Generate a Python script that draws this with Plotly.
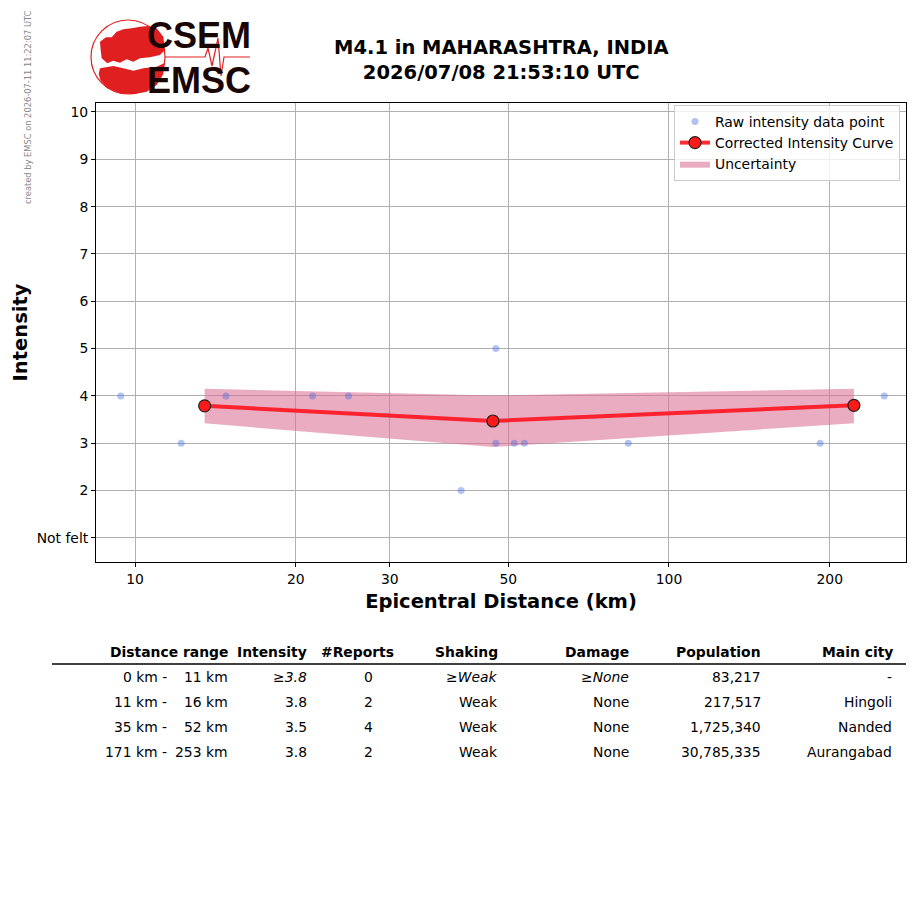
import plotly.graph_objects as go
import math

# ---------------- data ----------------
raw_dist = [9.4, 12.2, 14.8, 21.5, 25.1, 40.8, 47.4, 47.4, 51.3, 53.6, 83.9, 191.9, 253.0]
raw_int = [4, 3, 4, 4, 4, 2, 5, 3, 3, 3, 3, 3, 4]

curve_dist = [13.5, 46.8, 222.0]
curve_int = [3.79, 3.47, 3.80]
curve_upper = [4.15, 4.01, 4.15]
curve_lower = [3.42, 2.92, 3.42]

y_tickvals = [1, 2, 3, 4, 5, 6, 7, 8, 9, 10]
y_ticktext = ["Not felt", "2", "3", "4", "5", "6", "7", "8", "9", "10"]
x_tickvals = [10, 20, 30, 50, 100, 200]

title_lines = ["M4.1 in MAHARASHTRA, INDIA", "2026/07/08 21:53:10 UTC"]
credit = "created by EMSC on 2026-07-11 11:22:07 UTC"

tbl_headers = ["Distance range", "Intensity", "#Reports", "Shaking", "Damage", "Population", "Main city"]
tbl_from = ["0 km -", "11 km -", "35 km -", "171 km -"]
tbl_to = ["11 km", "16 km", "52 km", "253 km"]
tbl_intensity = ["≥<i>3.8</i>", "3.8", "3.5", "3.8"]
tbl_reports = ["0", "2", "4", "2"]
tbl_shaking = ["≥<i>Weak</i>", "Weak", "Weak", "Weak"]
tbl_damage = ["≥<i>None</i>", "None", "None", "None"]
tbl_population = ["83,217", "217,517", "1,725,340", "30,785,335"]
tbl_city = ["-", "Hingoli", "Nanded", "Aurangabad"]

# ---------------- layout helpers ----------------
W, H = 915, 905
L, R, T, B = 96, 906, 103, 562
def px(x):
    return (x - L) / (R - L)
def py(y):
    return (B - y) / (B - T)

FONT = "DejaVu Sans"
FS = 13.9

fig = go.Figure()

# uncertainty band
fig.add_trace(go.Scatter(
    x=curve_dist + curve_dist[::-1],
    y=curve_upper + curve_lower[::-1],
    fill="toself", mode="lines", line=dict(width=0),
    fillcolor="rgba(219,112,147,0.58)",
    name="Uncertainty", legendrank=3, hoverinfo="skip"))

# raw points
fig.add_trace(go.Scatter(
    x=raw_dist, y=raw_int, mode="markers",
    marker=dict(size=7, color="rgba(65,105,225,0.4)"),
    name="Raw intensity data point", legendrank=1))

# corrected curve
fig.add_trace(go.Scatter(
    x=curve_dist, y=curve_int, mode="lines+markers",
    line=dict(color="rgba(255,20,30,0.9)", width=4),
    marker=dict(size=12, color="#ff1a1a", line=dict(color="#222222", width=1.2)),
    name="Corrected Intensity Curve", legendrank=2))

fig.update_xaxes(
    type="log", range=[math.log10(8.45), math.log10(277.9)],
    tickvals=x_tickvals, ticktext=[str(v) for v in x_tickvals],
    showgrid=True, gridcolor="#b0b0b0", gridwidth=1,
    showline=True, linecolor="black", linewidth=1, mirror=True,
    ticks="outside", ticklen=4, tickcolor="black",
    tickfont=dict(family=FONT, size=FS, color="black"),
    title=dict(text="<b>Epicentral Distance (km)</b>", font=dict(family=FONT, size=19.5, color="black"), standoff=8),
    zeroline=False)
fig.update_yaxes(
    range=[0.49, 10.19],
    tickvals=y_tickvals, ticktext=y_ticktext,
    showgrid=True, gridcolor="#b0b0b0", gridwidth=1,
    showline=True, linecolor="black", linewidth=1, mirror=True,
    ticks="outside", ticklen=4, tickcolor="black",
    tickfont=dict(family=FONT, size=FS, color="black"),
    title=dict(text="<b>Intensity</b>", font=dict(family=FONT, size=19.5, color="black"), standoff=3),
    zeroline=False)

annotations = []
# title
annotations.append(dict(x=0.5, y=py(60), xref="paper", yref="paper",
    text="<b>" + title_lines[0] + "</b><br><b>" + title_lines[1] + "</b>",
    showarrow=False, font=dict(family=FONT, size=19.5, color="black"),
    xanchor="center", yanchor="middle"))
# credit
annotations.append(dict(x=px(28), y=py(107), xref="paper", yref="paper",
    text=credit, textangle=-90, showarrow=False,
    font=dict(family=FONT, size=8.3, color="#888888"),
    xanchor="center", yanchor="middle"))
# logo text
annotations.append(dict(x=px(199), y=py(36), xref="paper", yref="paper",
    text="<b>CSEM</b>", showarrow=False,
    font=dict(family="Liberation Sans", size=36, color="#1a0505"),
    xanchor="center", yanchor="middle"))
annotations.append(dict(x=px(199), y=py(80), xref="paper", yref="paper",
    text="<b>EMSC</b>", showarrow=False,
    font=dict(family="Liberation Sans", size=36, color="#1a0505"),
    xanchor="center", yanchor="middle"))

# table
PAD = 2
hdr_right = [228, 307, 394, 498, 629, 761, 893]
val_right = [228, 307, 373, 497, 629, 761, 892]
hdr_y = 652
row_ys = [677, 702, 727, 752]
for h, xr in zip(tbl_headers, hdr_right):
    annotations.append(dict(x=px(xr + PAD), y=py(hdr_y), xref="paper", yref="paper",
        text="<b>" + h + "</b>", showarrow=False,
        font=dict(family=FONT, size=FS, color="black"),
        xanchor="right", yanchor="middle"))
cols = [tbl_intensity, tbl_reports, tbl_shaking, tbl_damage, tbl_population, tbl_city]
for i, yy in enumerate(row_ys):
    annotations.append(dict(x=px(167 + PAD), y=py(yy), xref="paper", yref="paper",
        text=tbl_from[i], showarrow=False, font=dict(family=FONT, size=FS, color="black"),
        xanchor="right", yanchor="middle"))
    annotations.append(dict(x=px(val_right[0] + PAD), y=py(yy), xref="paper", yref="paper",
        text=tbl_to[i], showarrow=False, font=dict(family=FONT, size=FS, color="black"),
        xanchor="right", yanchor="middle"))
    for c, xr in zip(cols, val_right[1:]):
        annotations.append(dict(x=px(xr + PAD), y=py(yy), xref="paper", yref="paper",
            text=c[i], showarrow=False, font=dict(family=FONT, size=FS, color="black"),
            xanchor="right", yanchor="middle"))

shapes = []
# table header separator
shapes.append(dict(type="line", xref="paper", yref="paper",
    x0=px(52), x1=px(906), y0=py(664), y1=py(664), line=dict(color="black", width=1.5)))
# logo circle
shapes.append(dict(type="circle", xref="paper", yref="paper",
    x0=px(91), x1=px(165), y0=py(94), y1=py(20), line=dict(color="#e02020", width=1.2)))
# logo map (rough Europe + Africa silhouettes, in 3x logo-crop coordinates)
europe = [(300, 125), (318, 112), (335, 112), (350, 95), (370, 88), (395, 85), (420, 80),
          (445, 78), (470, 85), (490, 110), (495, 150), (480, 165), (450, 172), (420, 175),
          (400, 185), (380, 178), (360, 188), (340, 182), (322, 190), (305, 175), (302, 150)]
africa = [(300, 205), (340, 198), (370, 205), (400, 212), (430, 205), (470, 200), (492, 190),
          (490, 222), (470, 255), (440, 275), (400, 283), (360, 280), (322, 265), (302, 242), (296, 222)]
for poly in (europe, africa):
    path = "M " + " L ".join(f"{px(a / 3):.5f},{py(b / 3):.5f}" for a, b in poly) + " Z"
    shapes.append(dict(type="path", xref="paper", yref="paper", path=path,
        fillcolor="#e02020", line=dict(color="#e02020", width=0)))
# seismogram line
seis = [(165, 57), (205, 57), (208, 48), (212, 66), (218, 38), (221, 76), (224, 57), (250, 57)]
spath = "M " + " L ".join(f"{px(a):.5f},{py(b):.5f}" for a, b in seis)
shapes.append(dict(type="path", xref="paper", yref="paper", path=spath,
    line=dict(color="#e02020", width=1.2)))

fig.update_layout(
    width=W, height=H,
    margin=dict(l=L, r=W - R, t=T, b=H - B),
    paper_bgcolor="white", plot_bgcolor="white",
    font=dict(family=FONT, size=FS, color="black"),
    showlegend=True,
    legend=dict(x=px(900), y=py(105), xanchor="right", yanchor="top",
                bgcolor="rgba(255,255,255,0.8)", bordercolor="#cccccc", borderwidth=1,
                font=dict(family=FONT, size=FS, color="black"),
                tracegroupgap=0, itemwidth=30),
    annotations=annotations, shapes=shapes)

fig.write_html("out.html", config={"displayModeBar": False},
               post_script="document.body.style.margin='0px';")
